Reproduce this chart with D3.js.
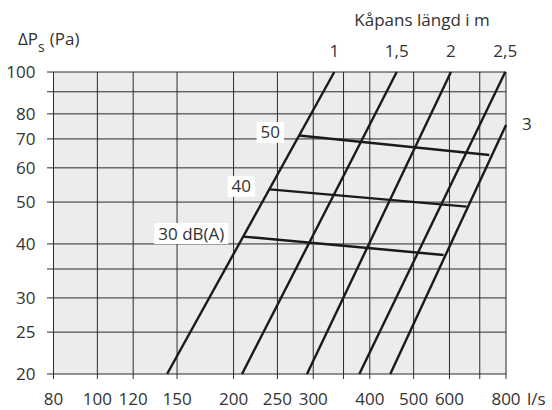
<!DOCTYPE html>
<html>
<head>
<meta charset="utf-8">
<script src="https://cdn.jsdelivr.net/npm/d3@7"></script>
<style>
  body { margin: 0; background: #fff; }
  text { font-family: "Open Sans", sans-serif; font-size: 17px; fill: #333; }
</style>
</head>
<body>
<div id="chart"></div>
<script>
const width = 552;
const height = 410;
const margin = {top: 72, right: 46, bottom: 36, left: 53.5};

// axis ticks and grid
const xTicks = [80, 100, 120, 150, 200, 250, 300, 400, 500, 600, 800];
const xGrid = [80, 100, 120, 150, 200, 250, 300, 350, 400, 500, 600, 700, 800];
const yTicks = [20, 25, 30, 40, 50, 60, 70, 80, 100];
const yGrid = [20, 25, 30, 35, 40, 50, 60, 70, 80, 90, 100];

// Kåpans längd lines, [l/s, Pa]
const lengthLabels = ["1", "1,5", "2", "2,5", "3"];
const lengthLines = [
  [[142.6, 20], [333.9, 100]],
  [[208.8, 20], [458.7, 100]],
  [[290.6, 20], [604.6, 100]],
  [[379.3, 20], [797, 100]],
  [[444, 20], [800, 75.4]]
];

// sound level lines, [l/s, Pa]
const dbLabels = ["30 dB(A)", "40", "50"];
const dbLines = [
  [[210.2, 41.6], [582.6, 37.7]],
  [[240.7, 53.5], [654.9, 48.8]],
  [[279, 71.3], [734.9, 64.25]]
];

const svg = d3.select("#chart")
  .append("svg")
  .attr("width", width)
  .attr("height", height);

const x = d3.scaleLog().domain([80, 800]).range([margin.left, width - margin.right]);
const y = d3.scaleLog().domain([20, 100]).range([height - margin.bottom, margin.top]);

const x0 = x.range()[0], x1 = x.range()[1];
const y0 = y.range()[0], y1 = y.range()[1];

svg.append("rect")
  .attr("x", x0).attr("y", y1)
  .attr("width", x1 - x0).attr("height", y0 - y1)
  .style("fill", "#ececec");

// grid lines, each runs a little past the axis as its tick
svg.append("g").selectAll("line")
  .data(xGrid).enter()
  .append("line")
  .attr("x1", d => x(d)).attr("x2", d => x(d))
  .attr("y1", y1).attr("y2", y0 + 5)
  .style("stroke", "#2b2b2b").style("stroke-width", 1);

svg.append("g").selectAll("line")
  .data(yGrid).enter()
  .append("line")
  .attr("x1", x0 - 6.5).attr("x2", x1)
  .attr("y1", d => y(d)).attr("y2", d => y(d))
  .style("stroke", "#2b2b2b").style("stroke-width", 1);

svg.append("g").selectAll("text")
  .data(xTicks).enter()
  .append("text")
  .attr("x", d => x(d)).attr("y", y0 + 31)
  .attr("text-anchor", "middle")
  .text(d => d);

svg.append("text")
  .attr("x", x1 + 21).attr("y", y0 + 31)
  .text("l/s");

svg.append("g").selectAll("text")
  .data(yTicks).enter()
  .append("text")
  .attr("x", x0 - 18).attr("y", d => y(d))
  .attr("dy", "0.35em")
  .attr("text-anchor", "end")
  .text(d => d);

// y title with subscript
const yTitle = svg.append("text").attr("x", 18).attr("y", 45);
yTitle.append("tspan").text("ΔP");
yTitle.append("tspan").attr("dy", 7).style("font-size", "14px").text("s");
yTitle.append("tspan").attr("dy", -7).attr("dx", 5).text("(Pa)");

svg.append("text")
  .attr("x", 422).attr("y", 26)
  .attr("text-anchor", "middle")
  .text("Kåpans längd i m");

const line = d3.line().x(d => x(d[0])).y(d => y(d[1]));

svg.append("g").selectAll("path")
  .data(lengthLines).enter()
  .append("path")
  .attr("d", line)
  .style("fill", "none").style("stroke", "#1a1a1a").style("stroke-width", 2.4);

svg.append("g").selectAll("text")
  .data(lengthLines).enter()
  .append("text")
  .attr("x", (d, i) => i < 4 ? x(d[1][0]) : x(d[1][0]) + 16)
  .attr("y", (d, i) => i < 4 ? y1 - 15 : y(d[1][1]) + 5)
  .attr("text-anchor", (d, i) => i < 4 ? "middle" : "start")
  .text((d, i) => lengthLabels[i]);

svg.append("g").selectAll("path")
  .data(dbLines).enter()
  .append("path")
  .attr("d", line)
  .style("fill", "none").style("stroke", "#1a1a1a").style("stroke-width", 2.4);

// white label boxes at the start of each sound line
const dbLabel = svg.append("g").selectAll("g")
  .data(dbLines).enter()
  .append("g")
  .attr("transform", d => `translate(${x(d[0][0]) - 19},${y(d[0][1]) - 3})`);

dbLabel.append("text")
  .attr("text-anchor", "end")
  .attr("dy", "0.35em")
  .text((d, i) => dbLabels[i]);

dbLabel.each(function() {
  const g = d3.select(this);
  const b = g.select("text").node().getBBox();
  g.insert("rect", "text")
    .attr("x", b.x - 4).attr("y", -10.5)
    .attr("width", b.width + 8).attr("height", 21)
    .style("fill", "#fff");
});
</script>
</body>
</html>
